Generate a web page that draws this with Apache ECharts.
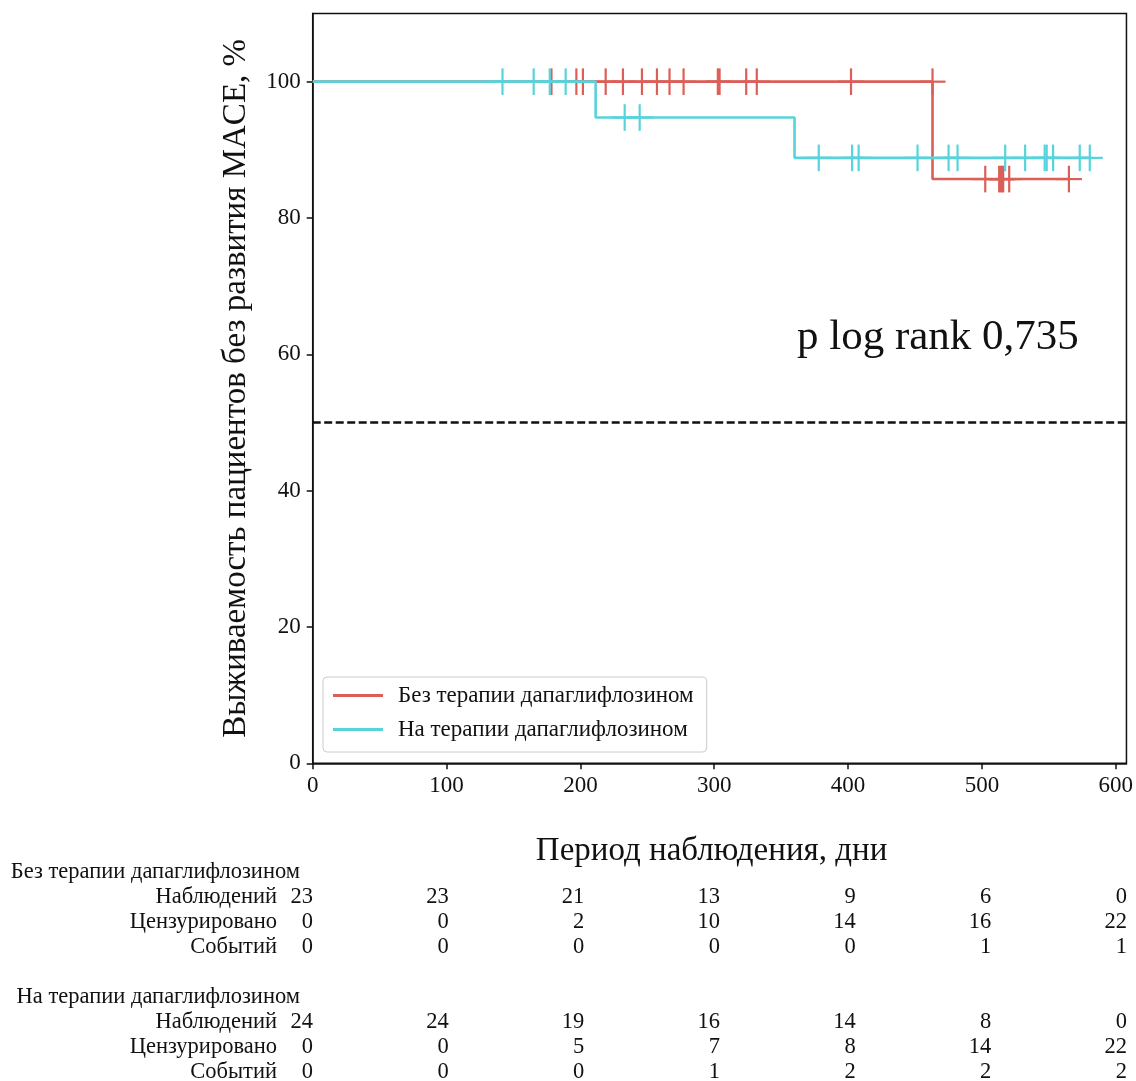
<!DOCTYPE html>
<html>
<head>
<meta charset="utf-8">
<script src="https://cdn.jsdelivr.net/npm/echarts@6/dist/echarts.min.js"></script>
<style>
  html, body { margin: 0; padding: 0; background: #ffffff; }
  #chart { width: 1136px; height: 1081px; }
</style>
</head>
<body>
<div id="chart"></div>
<script>
// Kaplan–Meier curves for MACE-free survival, with an at-risk table below.
const FONT = '"Liberation Serif", "Times New Roman", serif';
const INK = '#111111';
const RED = '#db5f57';
const CYAN = '#57d3db';

const xTicks = [0, 100, 200, 300, 400, 500, 600];
const yTicks = [0, 20, 40, 60, 80, 100];
const groupNames = ['Без терапии дапаглифлозином', 'На терапии дапаглифлозином'];

// Step curves: time (days) and survival (%) after each step
const noDapaStepTimes = [0, 463.1, 565.0];
const noDapaStepSurv = [100, 85.71, 85.71];
const dapaStepTimes = [0, 211.4, 360.0, 580.6];
const dapaStepSurv = [100, 94.74, 88.82, 88.82];

// Censoring times (days)
const noDapaCensorTimes = [178.4, 197.0, 201.9, 218.9, 231.8, 246.0, 257.2, 266.6, 277.1,
  302.7, 304.0, 323.9, 331.8, 402.2, 463.1, 502.5, 512.9, 514.0, 515.1, 515.9, 520.4, 565.0];
const dapaCensorTimes = [141.8, 165.1, 177.1, 189.0, 233.1, 244.3, 378.1, 403.0, 407.9,
  451.9, 475.1, 481.8, 517.4, 532.3, 546.9, 548.4, 553.2, 573.1, 580.6];

// At-risk table
const tableRowNames = ['Наблюдений', 'Цензурировано', 'Событий'];
const noDapaAtRisk = [23, 23, 21, 13, 9, 6, 0];
const noDapaCensored = [0, 0, 2, 10, 14, 16, 22];
const noDapaEvents = [0, 0, 0, 0, 0, 1, 1];
const dapaAtRisk = [24, 24, 19, 16, 14, 8, 0];
const dapaCensored = [0, 0, 5, 7, 8, 14, 22];
const dapaEvents = [0, 0, 0, 1, 2, 2, 2];

const medianLevel = 50;
const pValueText = 'p log rank 0,735';
const xAxisTitle = 'Период наблюдения, дни';
const yAxisTitle = 'Выживаемость пациентов без развития MACE, %';

// survival level just before time t (censor marks sit on the curve)
function survivalAt(times, surv, t) {
  let v = surv[0];
  for (let i = 0; i < times.length; i++) {
    if (times[i] < t) v = surv[i];
  }
  return v;
}

function stepData(times, surv) {
  return times.map((t, i) => [t, surv[i]]);
}

function censorSeries(name, times, stepT, stepS, color, z) {
  return {
    type: 'custom',
    name: name,
    xAxisIndex: 0,
    yAxisIndex: 0,
    silent: true,
    z: z,
    clip: false,
    data: times.map(t => [t, survivalAt(stepT, stepS, t)]),
    renderItem: function (params, api) {
      const p = api.coord([api.value(0), api.value(1)]);
      const st = { stroke: color, lineWidth: 2.2 };
      return {
        type: 'group',
        children: [
          { type: 'line', shape: { x1: p[0], y1: p[1] - 13.3, x2: p[0], y2: p[1] + 13.3 }, style: st },
          { type: 'line', shape: { x1: p[0] - 13, y1: p[1], x2: p[0] + 13, y2: p[1] }, style: st }
        ]
      };
    }
  };
}

// table cells: rows 0..3 for the first group, 5..8 for the second
const tableCells = [];
function addGroup(rowStart, name, atRisk, censored, events) {
  tableCells.push({ t: 0, row: rowStart, text: name, kind: 'header' });
  [atRisk, censored, events].forEach((vals, r) => {
    const row = rowStart + 1 + r;
    tableCells.push({ t: 0, row: row, text: tableRowNames[r], kind: 'label' });
    vals.forEach((v, c) => {
      tableCells.push({ t: xTicks[c], row: row, text: String(v), kind: 'num' });
    });
  });
}
addGroup(0, groupNames[0], noDapaAtRisk, noDapaCensored, noDapaEvents);
addGroup(5, groupNames[1], dapaAtRisk, dapaCensored, dapaEvents);

const chart = echarts.init(document.getElementById('chart'), null, { renderer: 'canvas' });

const axisLineStyle = { color: INK, width: 1.5 };
const tickLabel = { color: INK, fontFamily: FONT, fontSize: 23 };

chart.setOption({
  animation: false,
  backgroundColor: '#ffffff',
  grid: [
    { left: 312.7, top: 13.5, width: 814.6, height: 749.8, show: true, borderColor: INK, borderWidth: 1.5, backgroundColor: 'transparent' },
    { left: 313, top: 872, width: 814, height: 200, show: false }
  ],
  xAxis: [
    {
      type: 'value', gridIndex: 0, min: 0, max: 608,
      name: xAxisTitle, nameLocation: 'middle', nameGap: 72,
      nameTextStyle: { color: INK, fontFamily: FONT, fontSize: 33, padding: [0, 16, 0, 0] },
      axisLine: { show: true, lineStyle: axisLineStyle },
      axisTick: { show: true, length: 6, lineStyle: axisLineStyle, customValues: xTicks },
      axisLabel: Object.assign({ margin: 11, customValues: xTicks }, tickLabel),
      splitLine: { show: false }
    },
    { type: 'value', gridIndex: 1, min: 0, max: 600, show: false }
  ],
  yAxis: [
    {
      type: 'value', gridIndex: 0, min: 0, max: 110,
      name: yAxisTitle, nameLocation: 'middle', nameGap: 60, nameRotate: 90,
      nameTextStyle: { color: INK, fontFamily: FONT, fontSize: 33 },
      axisLine: { show: true, lineStyle: axisLineStyle },
      axisTick: { show: true, length: 6, lineStyle: axisLineStyle, customValues: yTicks },
      axisLabel: Object.assign({ margin: 12, customValues: yTicks }, tickLabel),
      splitLine: { show: false }
    },
    { type: 'value', gridIndex: 1, min: 0, max: 8, inverse: true, show: false }
  ],
  legend: {
    orient: 'vertical',
    left: 323, top: 677,
    data: groupNames,
    icon: 'rect',
    itemWidth: 50, itemHeight: 3, itemGap: 11,
    padding: [7, 13, 11, 10],
    backgroundColor: '#ffffff',
    borderColor: '#cccccc', borderWidth: 1, borderRadius: 4,
    textStyle: { color: INK, fontFamily: FONT, fontSize: 23, padding: [0, 0, 0, 10] }
  },
  graphic: [
    {
      type: 'text', left: 797, top: 316, silent: true,
      style: { text: pValueText, fill: INK, fontFamily: FONT, fontSize: 43 }
    }
  ],
  series: [
    {
      type: 'line', name: groupNames[0], step: 'end', showSymbol: false, symbol: 'none', z: 2,
      color: RED, lineStyle: { color: RED, width: 2.6 },
      data: stepData(noDapaStepTimes, noDapaStepSurv),
      markLine: {
        silent: true, symbol: 'none', label: { show: false },
        lineStyle: { color: INK, width: 2.5, type: [8, 3.5] },
        data: [{ yAxis: medianLevel }]
      }
    },
    censorSeries('noDapaCensor', noDapaCensorTimes, noDapaStepTimes, noDapaStepSurv, RED, 3),
    {
      type: 'line', name: groupNames[1], step: 'end', showSymbol: false, symbol: 'none', z: 4,
      color: CYAN, lineStyle: { color: CYAN, width: 2.6 },
      data: stepData(dapaStepTimes, dapaStepSurv)
    },
    censorSeries('dapaCensor', dapaCensorTimes, dapaStepTimes, dapaStepSurv, CYAN, 5),
    {
      type: 'custom', name: 'atRiskTable', xAxisIndex: 1, yAxisIndex: 1, silent: true, clip: false,
      data: tableCells.map(c => [c.t, c.row]),
      renderItem: function (params, api) {
        const cell = tableCells[params.dataIndex];
        const p = api.coord([api.value(0), api.value(1)]);
        let x = p[0];
        if (cell.kind === 'header') x = p[0] - 13;
        if (cell.kind === 'label') x = p[0] - 36;
        return {
          type: 'text',
          style: {
            x: x, y: p[1], text: cell.text, fill: INK,
            fontFamily: FONT, fontSize: 22.5,
            align: 'right', verticalAlign: 'middle'
          }
        };
      }
    }
  ]
});
</script>
</body>
</html>
